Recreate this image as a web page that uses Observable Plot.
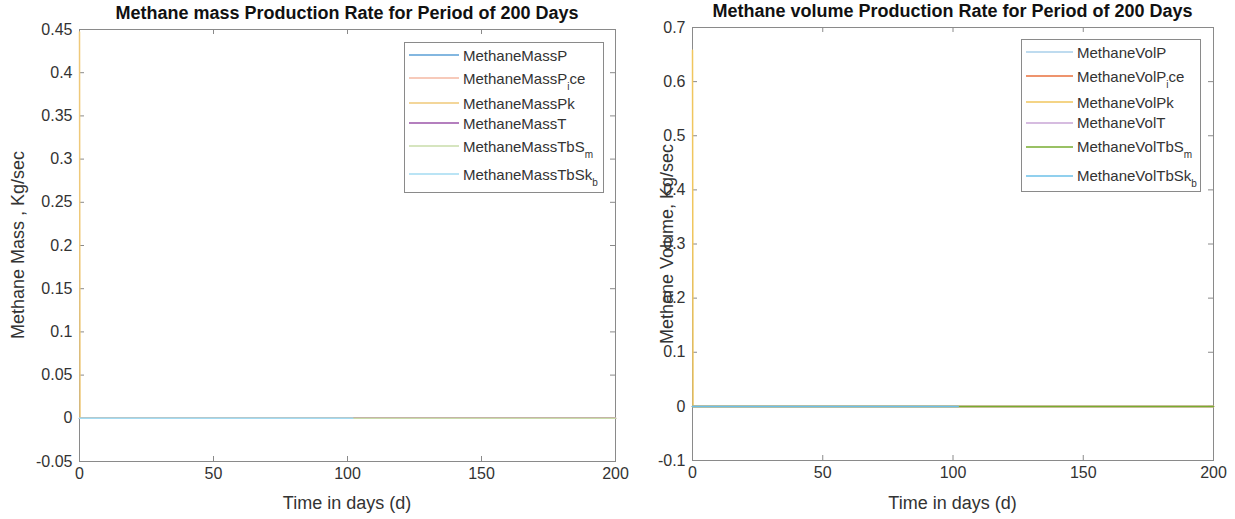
<!DOCTYPE html>
<html>
<head>
<meta charset="utf-8">
<script src="https://cdn.jsdelivr.net/npm/d3@7"></script>
<script src="https://cdn.jsdelivr.net/npm/@observablehq/plot@0.6"></script>
<style>
  body { margin: 0; background: #fff; }
  #chart { position: relative; width: 1235px; height: 519px; overflow: hidden;
           font-family: "Liberation Sans", Arial, sans-serif; color: #333; background: #fff; }
  #chart > svg { position: absolute; top: 0; }
  .title { position: absolute; font-weight: bold; font-size: 18px; color: #111;
           white-space: nowrap; transform: translateX(-50%); }
  .xlabel { position: absolute; font-size: 18px; white-space: nowrap; transform: translate(-50%, -50%); }
  .ylabel { position: absolute; font-size: 18px; white-space: nowrap;
            transform: translate(-50%, -50%) rotate(-90deg); }
  .legend { position: absolute; border: 1px solid #8a8a8a; background: #fff; box-sizing: border-box;
            padding: 2px 0 0 4px; display: flex; flex-direction: column; }
  .row { display: flex; align-items: center; font-size: 15px; color: #333; white-space: nowrap; }
  .row.sub { margin-top: 3px; margin-bottom: 5px; }
  .row svg { flex: none; margin-right: 4px; }
  .row sub { font-size: 10px; vertical-align: -6px; line-height: 0; }
</style>
</head>
<body>
<div id="chart"></div>
<script>
// ---- Methane mass production (kg/s) ----
const massTitle = "Methane mass Production Rate for Period of 200 Days";
const massYLabel = "Methane Mass , Kg/sec";
const massNames = ["MethaneMassP", "MethaneMassP_ice", "MethaneMassPk", "MethaneMassT", "MethaneMassTbS_m", "MethaneMassTbSk_b"];
const massColors = ["#5a9fd6", "#f4b9a3", "#efc979", "#9b55a8", "#c9dcaa", "#a3dbf2"];
const massTimes = [[0, 200], [0, 200], [0, 0.2, 200], [0, 200], [0, 200], [0, 102]];
const massValues = [[0, 0], [0, 0], [0.447, 0, 0], [0, 0], [0, 0], [0, 0]];
const massYDomain = [-0.05, 0.45];
const massYTicks = [-0.05, 0, 0.05, 0.1, 0.15, 0.2, 0.25, 0.3, 0.35, 0.4, 0.45];

// ---- Methane volume production ----
const volTitle = "Methane volume Production Rate for Period of 200 Days";
const volYLabel = "Methane Volume, Kg/sec";
const volNames = ["MethaneVolP", "MethaneVolP_ice", "MethaneVolPk", "MethaneVolT", "MethaneVolTbS_m", "MethaneVolTbSk_b"];
const volColors = ["#a9cfea", "#e8703c", "#f0c65e", "#c9a6d6", "#77ac30", "#6cc0e8"];
const volTimes = [[0, 200], [0, 200], [0, 0.2, 200], [0, 200], [0, 200], [0, 102]];
const volValues = [[0, 0], [0, 0], [0.658, 0, 0], [0, 0], [0, 0], [0, 0]];
const volYDomain = [-0.1, 0.7];
const volYTicks = [-0.1, 0, 0.1, 0.2, 0.3, 0.4, 0.5, 0.6, 0.7];

// ---- shared time axis ----
const xLabel = "Time in days (d)";
const xDomain = [0, 200];
const xTicks = [0, 50, 100, 150, 200];

const chart = document.getElementById("chart");
const axisColor = "#8a8a8a";
const tickLen = 5;

function el(tag, cls, text) {
  const e = document.createElement(tag);
  if (cls) e.className = cls;
  if (text != null) e.textContent = text;
  return e;
}

// TeX-style "_x" becomes a one-character subscript
function texLabel(name) {
  const span = document.createElement("span");
  const m = name.match(/^(.*)_(.)(.*)$/);
  if (!m) { span.textContent = name; return span; }
  span.append(m[1]);
  const s = document.createElement("sub"); s.textContent = m[2]; span.append(s);
  span.append(m[3]);
  return span;
}

function panel(cfg) {
  const {left, width, height, margin, names, colors, times, values, yDomain, yTicks} = cfg;
  const innerW = width - margin.left - margin.right;
  const innerH = height - margin.top - margin.bottom;
  const fmt = d => String(Math.round(d * 100) / 100);

  const lines = names.map((name, i) =>
    Plot.line(times[i].map((t, j) => ({t, v: values[i][j]})),
      {x: "t", y: "v", stroke: colors[i], strokeWidth: 1.5})
  );

  const svg = Plot.plot({
    width, height,
    marginLeft: margin.left, marginRight: margin.right,
    marginTop: margin.top, marginBottom: margin.bottom,
    x: {domain: xDomain},
    y: {domain: yDomain},
    style: {background: "transparent", overflow: "visible", fontSize: "16px",
            fontFamily: "'Liberation Sans', Arial, sans-serif", color: "#333"},
    marks: [
      Plot.frame({stroke: axisColor}),
      // inward ticks on all four sides
      Plot.tickY(yTicks, {y: d => d, stroke: axisColor, insetRight: innerW - tickLen}),
      Plot.tickY(yTicks, {y: d => d, stroke: axisColor, insetLeft: innerW - tickLen}),
      Plot.tickX(xTicks, {x: d => d, stroke: axisColor, insetTop: innerH - tickLen}),
      Plot.tickX(xTicks, {x: d => d, stroke: axisColor, insetBottom: innerH - tickLen}),
      Plot.axisY({ticks: yTicks, tickSize: 0, tickPadding: 7, tickFormat: fmt, label: null}),
      Plot.axisX({ticks: xTicks, tickSize: 0, tickPadding: 6, tickFormat: fmt, label: null}),
      ...lines
    ]
  });
  svg.style.left = left + "px";
  chart.append(svg);

  const cx = left + margin.left + innerW / 2;
  const title = el("div", "title", cfg.title);
  title.style.left = cx + "px"; title.style.top = cfg.titleTop + "px";
  chart.append(title);

  const xl = el("div", "xlabel", xLabel);
  xl.style.left = cx + "px"; xl.style.top = "503px";
  chart.append(xl);

  const yl = el("div", "ylabel", cfg.yLabel);
  yl.style.left = cfg.yLabelX + "px"; yl.style.top = (margin.top + innerH / 2) + "px";
  chart.append(yl);

  const lg = el("div", "legend");
  Object.assign(lg.style, {left: cfg.legend.x + "px", top: cfg.legend.y + "px",
    width: cfg.legend.w + "px", height: cfg.legend.h + "px"});
  names.forEach((name, i) => {
    const row = el("div", "row" + (name.includes("_") ? " sub" : ""));
    row.style.height = cfg.legend.rowH + "px";
    const sw = d3.create("svg").attr("width", cfg.legend.lineW).attr("height", 4);
    sw.append("line").attr("x1", 0).attr("x2", cfg.legend.lineW).attr("y1", 2).attr("y2", 2)
      .attr("stroke", colors[i]).attr("stroke-width", 1.5);
    row.append(sw.node(), texLabel(name));
    lg.append(row);
  });
  chart.append(lg);
}

panel({
  left: 0, width: 620, height: 519,
  margin: {left: 79, right: 5, top: 29, bottom: 58},
  names: massNames, colors: massColors, times: massTimes, values: massValues,
  yDomain: massYDomain, yTicks: massYTicks,
  title: massTitle, titleTop: 3, yLabel: massYLabel, yLabelX: 18,
  legend: {x: 404, y: 42, w: 200, h: 151, lineW: 50, rowH: 20}
});

panel({
  left: 620, width: 615, height: 519,
  margin: {left: 72, right: 22, top: 27, bottom: 59},
  names: volNames, colors: volColors, times: volTimes, values: volValues,
  yDomain: volYDomain, yTicks: volYTicks,
  title: volTitle, titleTop: 1, yLabel: volYLabel, yLabelX: 667,
  legend: {x: 1021, y: 39, w: 180, h: 153, lineW: 47, rowH: 21}
});
</script>
</body>
</html>
